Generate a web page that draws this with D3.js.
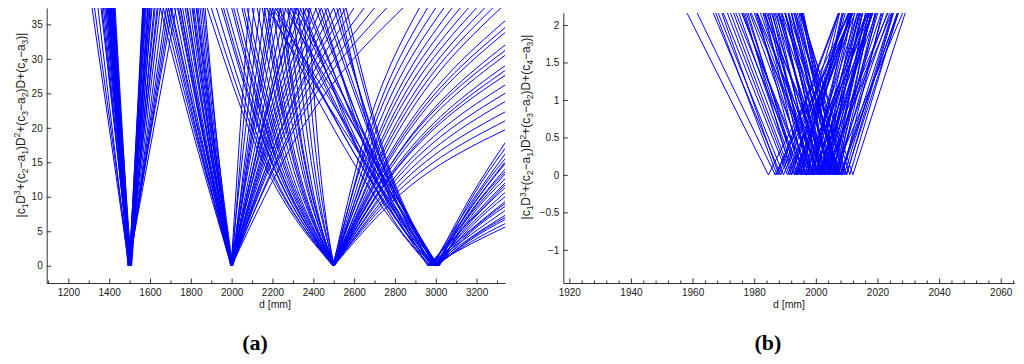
<!DOCTYPE html>
<html lang="en">
<head>
<meta charset="UTF-8" />
<title>Polynomial residual curves</title>
<script src="https://d3js.org/d3.v7.min.js"></script>
<style>
  body { margin: 0; background: #fff; }
  svg { display: block; font-family: "Liberation Sans", Arial, sans-serif; }
  .tick text { font-family: "Liberation Sans", Arial, sans-serif; font-size: 10px; fill: #1a1a1a; }
  .axis path, .axis line { stroke: #333; }
  .curve { fill: none; stroke: #0000ff; stroke-width: 1; }
  .xlabel { font-size: 10.5px; fill: #1a1a1a; }
  .tag { font-family: "Liberation Serif", "Times New Roman", serif; font-weight: bold; font-size: 22px; }
</style>
</head>
<body>
<svg id="chart" width="1024" height="364"></svg>
<script>
// ---- panel (a): |cubic| curves, points are [d (mm), value] ----
// value 37.4 = curve leaves the top of the plot
const curves1500 = [
  [[1316,37.4],[1497,0],[1700,37.4]],
  [[1328,37.4],[1499,0],[1690,37.4]],
  [[1345,37.4],[1494,0],[1728,37.4]],
  [[1360,37.4],[1502,0],[1665,37.4]],
  [[1372,37.4],[1496,0],[1640,37.4]],
  [[1378,37.4],[1500,0],[1625,37.4]],
  [[1384,37.4],[1498,0],[1610,37.4]],
  [[1390,37.4],[1503,0],[1600,37.4]],
  [[1394,37.4],[1495,0],[1595,37.4]],
  [[1398,37.4],[1501,0],[1588,37.4]],
  [[1402,37.4],[1499,0],[1582,37.4]],
  [[1405,37.4],[1504,0],[1578,37.4]],
  [[1408,37.4],[1497,0],[1575,37.4]],
  [[1411,37.4],[1500,0],[1572,37.4]],
  [[1414,37.4],[1502,0],[1570,37.4]],
  [[1417,37.4],[1498,0],[1568,37.4]],
  [[1420,37.4],[1505,0],[1566,37.4]],
  [[1423,37.4],[1500,0],[1564,37.4]],
  [[1426,37.4],[1496,0],[1600,37.4]],
  [[1429,37.4],[1503,0],[1620,37.4]],
  [[1385,37.4],[1501,0],[1650,37.4]],
  [[1410,37.4],[1499,0],[1680,37.4]],
  [[1400,37.4],[1492,0],[1710,37.4]],
  [[1420,37.4],[1508,0],[1590,37.4]],
  [[1365,37.4],[1500,0],[1635,37.4]],
  [[1395,37.4],[1510,0],[1606,37.4]]
];

const curves2000 = [
  [[1650,37.4],[1816,18.7],[1998,0],[2039,18.7],[2085,37.4]],
  [[1665,37.4],[1825,18.7],[2001,0],[2052,18.7],[2110,37.4]],
  [[1690,37.4],[1835,18.7],[1996,0],[2064,18.7],[2140,37.4]],
  [[1705,37.4],[1846,18.7],[2003,0],[2079,18.7],[2165,37.4]],
  [[1720,37.4],[1851,18.7],[1999,0],[2089,18.7],[2190,37.4]],
  [[1735,37.4],[1860,18.7],[2002,0],[2102,18.7],[2215,37.4]],
  [[1748,37.4],[1864,18.7],[1997,0],[2111,18.7],[2240,37.4]],
  [[1760,37.4],[1872,18.7],[2000,0],[2125,18.7],[2265,37.4]],
  [[1772,37.4],[1880,18.7],[2004,0],[2138,18.7],[2290,37.4]],
  [[1784,37.4],[1883,18.7],[1998,0],[2141,18.7],[2315,37.4]],
  [[1795,37.4],[1890,18.7],[2001,0],[2154,18.7],[2340,37.4]],
  [[1806,37.4],[1892,18.7],[1995,0],[2162,18.7],[2365,37.4]],
  [[1816,37.4],[1901,18.7],[2003,0],[2173,18.7],[2390,37.4]],
  [[1826,37.4],[1904,18.7],[1999,0],[2182,18.7],[2415,37.4]],
  [[1836,37.4],[1911,18.7],[2002,0],[2190,18.7],[2440,37.4]],
  [[1845,37.4],[1913,18.7],[1997,0],[2200,18.7],[2470,37.4]],
  [[1854,37.4],[1919,18.7],[2000,0],[2210,18.7],[2500,37.4]],
  [[1862,37.4],[1925,18.7],[2005,0],[2226,18.7],[2530,37.4]],
  [[1870,37.4],[1926,18.7],[1998,0],[2228,18.7],[2560,37.4]],
  [[1700,37.4],[1842,18.7],[2001,0],[2241,18.7],[2600,37.4]],
  [[1740,37.4],[1861,18.7],[1999,0],[2253,18.7],[2650,37.4]],
  [[1780,37.4],[1883,18.7],[2002,0],[2274,18.7],[2700,37.4]],
  [[1810,37.4],[1895,18.7],[1996,0],[2286,18.7],[2760,37.4]],
  [[1750,37.4],[1867,18.7],[2000,0],[2319,18.7],[2840,37.4]],
  [[1830,37.4],[1908,18.7],[2003,0],[2096,18.7],[2200,37.4]],
  [[1680,37.4],[1831,18.7],[1999,0],[2143,18.7],[2320,37.4]]
];

const curves2500 = [
  [[1880,37.4],[2127,16.8],[2497,0],[2637,17.2],[2920,37.4]],
  [[1900,37.4],[2141,16.8],[2502,0],[2653,17.2],[2960,37.4]],
  [[1925,37.4],[2153,16.8],[2495,0],[2662,17.2],[3000,37.4]],
  [[1950,37.4],[2170,16.8],[2500,0],[2678,17.2],[3040,37.4]],
  [[1975,37.4],[2187,16.8],[2504,0],[2694,17.2],[3080,37.4]],
  [[2000,37.4],[2199,16.8],[2498,0],[2703,17.2],[3120,37.4]],
  [[2025,37.4],[2215,16.8],[2501,0],[2718,17.2],[3160,37.4]],
  [[2050,37.4],[2228,16.8],[2496,0],[2728,17.2],[3200,37.4]],
  [[2075,37.4],[2246,16.8],[2503,0],[2746,17.2],[3240,37.4]],
  [[2100,37.4],[2260,16.8],[2499,0],[2757,17.2],[3280,37.4]],
  [[2125,37.4],[2276,16.8],[2502,0],[2772,17.2],[3320,37.4]],
  [[2150,37.4],[2289,16.8],[2497,0],[2775,16.3],[3339,35.5]],
  [[2175,37.4],[2305,16.8],[2500,0],[2777,15.5],[3339,33.8]],
  [[2200,37.4],[2322,16.8],[2504,0],[2780,14.7],[3339,32.0]],
  [[2225,37.4],[2334,16.8],[2498,0],[2776,14.0],[3339,30.5]],
  [[2250,37.4],[2350,16.8],[2501,0],[2778,13.3],[3339,29.0]],
  [[2275,37.4],[2363,16.8],[2496,0],[2774,12.7],[3339,27.6]],
  [[2300,37.4],[2381,16.8],[2503,0],[2779,12.1],[3339,26.2]],
  [[2325,37.4],[2395,16.8],[2499,0],[2776,11.5],[3339,25.0]],
  [[2350,37.4],[2411,16.8],[2502,0],[2778,10.9],[3339,23.8]],
  [[2375,37.4],[2425,16.8],[2500,0],[2777,10.3],[3339,22.3]],
  [[1960,37.4],[2175,16.8],[2498,0],[2776,9.66],[3339,21.0]],
  [[2060,37.4],[2236,16.8],[2501,0],[2778,9.06],[3339,19.7]],
  [[2160,37.4],[2296,16.8],[2499,0],[2776,15.9],[3339,34.5]],
  [[2240,37.4],[2345,16.8],[2503,0],[2779,13.0],[3339,28.3]],
  [[2010,37.4],[2204,16.8],[2496,0],[2774,14.4],[3339,31.2]]
];

const curves3000 = [
  [[2170,37.4],[2774,9.5],[2990,0],[3170,9.97],[3339,17.8]],
  [[2200,37.4],[2774,10.5],[3005,0],[3170,9.52],[3339,17.0]],
  [[2230,37.4],[2774,8.0],[2980,0],[3170,9.07],[3339,16.2]],
  [[2260,37.4],[2774,11.5],[3010,0],[3170,8.68],[3339,15.5]],
  [[2290,37.4],[2774,9.0],[2995,0],[3170,8.29],[3339,14.8]],
  [[2320,37.4],[2774,12.0],[3000,0],[3170,7.84],[3339,14.0]],
  [[2350,37.4],[2774,7.5],[2975,0],[3170,7.45],[3339,13.3]],
  [[2380,37.4],[2774,10.0],[3015,0],[3170,7.06],[3339,12.6]],
  [[2410,37.4],[2774,11.0],[2985,0],[3170,6.72],[3339,12.0]],
  [[2440,37.4],[2774,8.5],[3002,0],[3170,6.33],[3339,11.3]],
  [[2470,37.4],[2774,12.5],[2992,0],[3170,5.94],[3339,10.6]],
  [[2500,37.4],[2774,13.0],[3008,0],[3170,5.6],[3339,10.0]],
  [[2530,37.4],[2774,9.8],[2970,0],[3170,5.21],[3339,9.3]],
  [[2560,37.4],[2774,14.0],[3012,0],[3170,4.82],[3339,8.6]],
  [[2185,37.4],[2774,7.0],[2965,0],[3170,4.48],[3339,8.0]],
  [[2275,37.4],[2774,8.8],[2988,0],[3170,4.09],[3339,7.3]],
  [[2365,37.4],[2774,10.8],[3004,0],[3170,3.75],[3339,6.7]],
  [[2455,37.4],[2774,12.2],[2998,0],[3170,3.42],[3339,6.1]],
  [[2515,37.4],[2774,11.8],[2978,0],[3170,3.14],[3339,5.6]],
  [[2335,37.4],[2774,9.2],[3018,0],[3170,7.62],[3339,13.6]],
  [[2425,37.4],[2774,10.2],[2960,0],[3170,6.55],[3339,11.7]],
  [[2215,37.4],[2774,8.2],[2982,0],[3170,8.4],[3339,15.0]],
  [[2545,37.4],[2774,13.5],[2994,0],[3170,5.04],[3339,9.0]],
  [[2305,37.4],[2774,11.0],[3006,0],[3170,3.92],[3339,7.0]]
];

// ---- panel (b): V-shaped curves, [d at left top, root d, d at right top] ----
const peakB = 2.16;
const vCurves = [
  [1958.2,1984.6,2011.0],[1961.5,1986.8,2012.1],[1966.7,1988.6,2010.5],[1968.3,1989.5,2010.7],
  [1970.0,1990.8,2011.6],[1971.3,1991.4,2011.5],[1972.3,1992.0,2011.7],[1973.3,1993.0,2012.7],
  [1975.0,1993.4,2011.8],[1976.5,1994.0,2011.5],[1967.5,1987.4,2007.3],
  [1977.5,1994.5,2011.5],[1981.0,1995.0,2009.0],[1976.0,1996.2,2016.4],[1983.5,1995.6,2007.7],
  [1980.5,1997.0,2013.5],[1984.5,1996.5,2008.5],[1978.6,1997.8,2017.0],[1985.0,1998.0,2011.0],
  [1982.8,1998.6,2014.4],[1987.3,1999.0,2010.7],[1980.9,1999.5,2018.1],[1986.4,2000.0,2013.6],
  [1989.0,2000.4,2011.8],[1983.5,2001.0,2018.5],[1988.6,2001.3,2014.0],[1985.6,2002.0,2018.4],
  [1990.2,2002.2,2014.2],[1987.7,2003.0,2018.3],[1991.1,2003.1,2015.1],[1986.8,2004.0,2021.2],
  [1992.2,2004.2,2016.2],[1989.9,2005.0,2020.1],[1993.4,2005.3,2017.2],[1988.0,2006.0,2024.0],
  [1994.5,2006.2,2017.9],[1992.1,2007.0,2021.9],[1995.2,2007.4,2019.6],[1991.2,2008.0,2024.8],
  [1995.7,2008.6,2021.5],[1993.4,2009.2,2025.0],[1994.8,2010.0,2025.2],[1995.4,2011.0,2026.6],
  [1996.0,2006.9,2017.8],[1995.0,2012.0,2029.0],
  [1980.0,1999.2,2018.4],[1984.0,2003.6,2023.2],[1978.0,1993.8,2009.6],[1988.0,2001.6,2015.2],
  [1990.0,2002.6,2015.2],[1986.0,1997.4,2008.8],[1992.0,2004.6,2017.2],[1982.0,2000.8,2019.6],
  [1976.0,1996.8,2017.6],[1989.0,2007.8,2026.6],[1983.0,2005.6,2028.2],[1974.0,1995.4,2016.8],
  [1991.0,2001.8,2012.6],[1993.0,2003.8,2014.6],[1994.0,2006.6,2019.2],[1985.0,1998.4,2011.8],
  [1979.0,2001.2,2023.4],[1990.0,2008.2,2026.4],[1981.0,2002.8,2024.6],[1977.0,1992.2,2007.4],
  [1969.5,1988.0,2007.5],[1995.5,2005.8,2016.1],[1992.8,2009.8,2026.8]
];

const ticksA_x = d3.range(1200, 3201, 200);
const minorA_x = d3.range(1100, 3301, 100);
const ticksA_y = d3.range(0, 36, 5);
const ticksB_x = d3.range(1920, 2061, 20);
const minorB_x = d3.range(1920, 2065, 4);
const ticksB_y = [-1, -0.5, 0, 0.5, 1, 1.5, 2];

const svg = d3.select("#chart");
svg.append("rect").attr("width", 1024).attr("height", 364).attr("fill", "#fff");

const xA = d3.scaleLinear().domain([1094, 3339]).range([46.7, 505]);
const yA = d3.scaleLinear().domain([-2.5, 37.37]).range([283, 8]);
const xB = d3.scaleLinear().domain([1918.05, 2064.4]).range([563.3, 1014.3]);
const yB = d3.scaleLinear().domain([-1.443, 2.164]).range([283, 12.7]);

svg.append("clipPath").attr("id", "clipA").append("rect")
  .attr("x", 46.7).attr("y", 8).attr("width", 505 - 46.7).attr("height", 275);

const fmt = d => String(d).replace("-", "\u2212");

function drawAxes(x, y, major, minor, yt) {
  const gx = svg.append("g").attr("class", "axis").attr("transform", `translate(0,${y.range()[0]})`);
  gx.call(d3.axisBottom(x).tickValues(minor.filter(v => !major.includes(v))).tickFormat("")
    .tickSizeInner(-2.5).tickSizeOuter(0));
  gx.select(".domain").remove();
  svg.append("g").attr("class", "axis").attr("transform", `translate(0,${y.range()[0]})`)
    .call(d3.axisBottom(x).tickValues(major).tickFormat(d3.format("d"))
      .tickSizeInner(-4.5).tickSizeOuter(0).tickPadding(6));
  svg.append("g").attr("class", "axis").attr("transform", `translate(${x.range()[0]},0)`)
    .call(d3.axisLeft(y).tickValues(yt).tickFormat(fmt)
      .tickSizeInner(-4.5).tickSizeOuter(0).tickPadding(4));
}

drawAxes(xA, yA, ticksA_x, minorA_x, ticksA_y);
drawAxes(xB, yB, ticksB_x, minorB_x, ticksB_y);

// curves of panel (a): each drawn as two branches meeting at the root
const lineA = d3.line().x(p => xA(p[0])).y(p => yA(p[1])).curve(d3.curveMonotoneX);
const gA = svg.append("g").attr("clip-path", "url(#clipA)");
[curves1500, curves2000, curves2500, curves3000].forEach(group => {
  group.forEach(pts => {
    const i = pts.findIndex(p => p[1] === 0);
    gA.append("path").attr("class", "curve").attr("d", lineA(pts.slice(0, i + 1)));
    gA.append("path").attr("class", "curve").attr("d", lineA(pts.slice(i)));
  });
});

// curves of panel (b)
const lineB = d3.line().x(p => xB(p[0])).y(p => yB(p[1]));
svg.append("g").selectAll("path").data(vCurves).join("path")
  .attr("class", "curve")
  .attr("d", c => lineB([[c[0], peakB], [c[1], 0], [c[2], peakB]]));

// labels
function yLabel(cx, cy) {
  const parts = [["|c",0],["1",1],["D",0],["3",-1],["+(c",0],["2",1],["\u2212a",0],["1",1],
    [")D",0],["2",-1],["+(c",0],["3",1],["\u2212a",0],["2",1],[")D+(c",0],["4",1],
    ["\u2212a",0],["3",1],[")|",0]];
  const t = svg.append("text").attr("transform", `translate(${cx},${cy}) rotate(-90)`)
    .attr("text-anchor", "middle").attr("fill", "#1a1a1a").attr("font-size", 12);
  let cur = 0;
  parts.forEach(([s, lvl]) => {
    const off = lvl === 1 ? 3 : lvl === -1 ? -4.5 : 0;
    t.append("tspan").attr("dy", off - cur).attr("font-size", lvl ? 8.5 : 12).text(s);
    cur = off;
  });
}
yLabel(24.5, 125);
yLabel(530, 127);

svg.append("text").attr("class", "xlabel").attr("x", 275).attr("y", 308)
  .attr("text-anchor", "middle").text("d [mm]");
svg.append("text").attr("class", "xlabel").attr("x", 789).attr("y", 308)
  .attr("text-anchor", "middle").text("d [mm]");

svg.append("text").attr("class", "tag").attr("x", 255).attr("y", 350)
  .attr("text-anchor", "middle").text("(a)");
svg.append("text").attr("class", "tag").attr("x", 768).attr("y", 350)
  .attr("text-anchor", "middle").text("(b)");
</script>
</body>
</html>
